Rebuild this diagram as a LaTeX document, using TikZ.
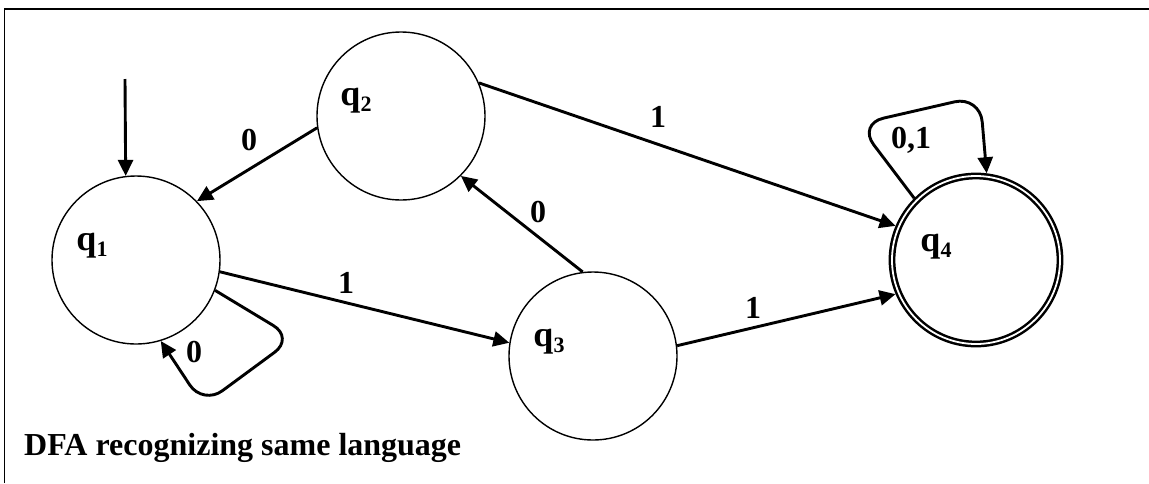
\documentclass[tikz,border=0pt]{standalone}
\usepackage{fontspec}
\setmainfont{Liberation Serif}
\usetikzlibrary{arrows.meta}
\newcommand\qname[1]{{\fontsize{36}{40}\selectfont q}\raisebox{-6pt}{\fontsize{22}{24}\selectfont #1}}
\begin{document}
\begin{tikzpicture}[x=1pt,y=-1pt,
  state/.style={circle, draw, line width=1.4pt, minimum size=168pt, inner sep=0pt},
  accept/.style={circle, draw, line width=2.5pt, double, double distance=1.8pt, minimum size=168pt, inner sep=0pt, outer sep=3.4pt},
  arr/.style={line width=2.9pt, -{Triangle[length=16pt,width=15pt]}},
  lbl/.style={font=\fontsize{32}{36}\selectfont\bfseries, inner sep=0pt, anchor=base},
  qlab/.style={font=\bfseries, inner sep=0pt, anchor=base west},
  frame/.style={line width=1.5pt}]
\useasboundingbox (0,0) rectangle (1149,483);
% frame (only top and left edges visible)
\draw[frame] (4.5,483) -- (4.5,9) -- (1149,9);
% states
\node[state, label={[qlab, xshift=-44pt, yshift=14pt]center:\qname{1}}] (q1) at (136,260) {};
\node[state, label={[qlab, xshift=-45pt, yshift=15pt]center:\qname{2}}] (q2) at (401,116) {};
\node[state, label={[qlab, xshift=-44pt, yshift=14pt]center:\qname{3}}] (q3) at (593,356) {};
\node[accept, label={[qlab, xshift=-40pt, yshift=13pt]center:\qname{4}}] (q4) at (976,260) {};
% initial arrow
\coordinate (start) at (125,79);
\draw[arr] (start) -- (q1.97.5);
% transitions
\draw[arr] (q2.188) -- (q1.44.5) node[lbl] at (249,150) {0};
\draw[arr] (q1.-8.7) -- (q3.171) node[lbl] at (346,293) {1};
\draw[arr] (q3.97.5) -- (q2.-45) node[lbl] at (538,222) {0};
\draw[arr] (q2.23.4) -- (q4.157) node[lbl] at (658,127) {1};
\draw[arr] (q3.7.5) -- (q4.203.5) node[lbl] at (753,318) {1};
% self loops
\draw[arr, rounded corners=24pt] (q1.-21) -- (294,338) -- (203,405) -- (q1.-73) node[lbl] at (194,362) {0};
\draw[arr, rounded corners=26pt] (q4.135.5) -- (858,124) -- (980,96) -- (q4.83) node[lbl] at (911,148) {0,1};
% caption
\node[font=\fontsize{32}{36}\selectfont\bfseries, inner sep=0pt, anchor=base west] (title) at (24,455) {DFA recognizing same language};
\end{tikzpicture}
\end{document}
